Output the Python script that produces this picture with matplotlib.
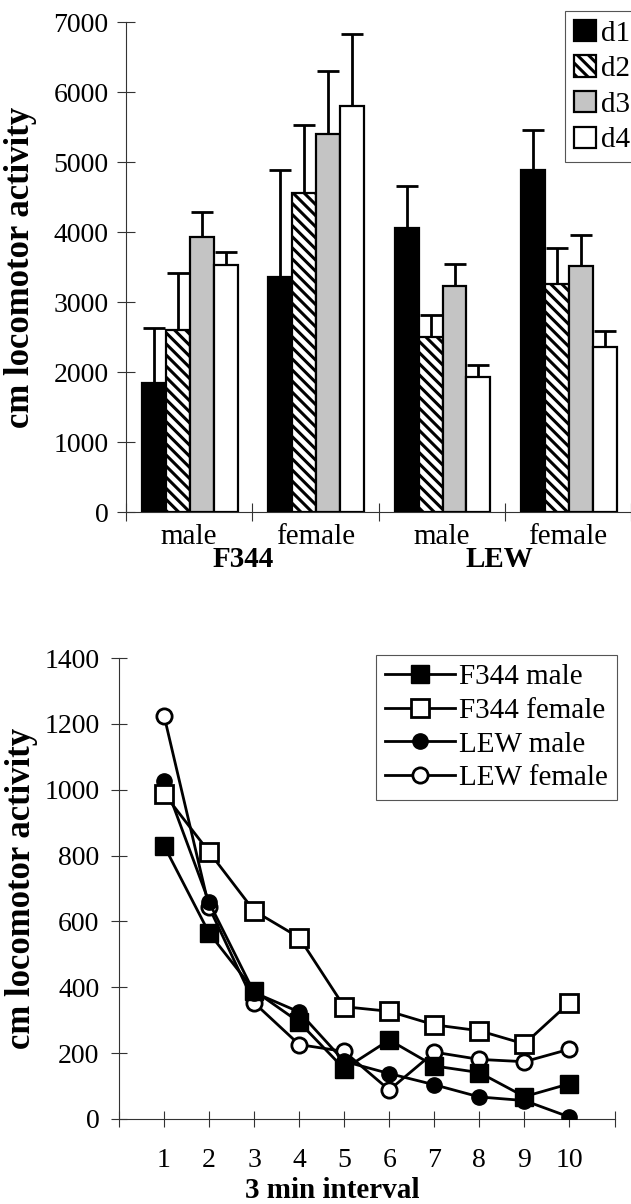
import matplotlib
matplotlib.use("Agg")
import matplotlib.pyplot as plt
import matplotlib.transforms as mtransforms
import numpy as np

plt.rcParams['font.family'] = ['Liberation Serif', 'DejaVu Serif']
plt.rcParams['hatch.linewidth'] = 2.2

# ---------------- data: top chart ----------------
groups = ["male", "female", "male", "female"]
strains = ["F344", "LEW"]
days = ["d1", "d2", "d3", "d4"]
d1_mean = [1850, 3360, 4060, 4880]
d1_err = [780, 1520, 590, 580]
d2_mean = [2600, 4560, 2500, 3260]
d2_err = [810, 970, 320, 505]
d3_mean = [3935, 5400, 3230, 3520]
d3_err = [345, 895, 315, 435]
d4_mean = [3525, 5800, 1925, 2360]
d4_err = [190, 1035, 180, 225]

# ---------------- data: bottom chart ----------------
intervals = [1, 2, 3, 4, 5, 6, 7, 8, 9, 10]
f344_male = [830, 565, 390, 294, 152, 240, 161, 141, 68, 107]
f344_female = [988, 811, 632, 551, 341, 327, 286, 268, 228, 353]
lew_male = [1027, 658, 384, 325, 175, 138, 104, 67, 56, 6]
lew_female = [1225, 643, 353, 226, 205, 88, 203, 181, 174, 212]

W, H = 631, 1204
fig = plt.figure(figsize=(W / 100, H / 100), dpi=100)

FS = 20      # tick numbers
FL = 21      # category labels / legend
axcol = '#333333'

# ================= TOP =================
ax1 = fig.add_axes([126 / W, 1 - 512 / H, 505 / W, 490 / H])
bw = 0.19
off0 = 0.127
means = [d1_mean, d2_mean, d3_mean, d4_mean]
errs = [d1_err, d2_err, d3_err, d4_err]
styles = [dict(facecolor='black', hatch=None),
          dict(facecolor='white', hatch='\\\\\\'),
          dict(facecolor='#c4c4c4', hatch=None),
          dict(facecolor='white', hatch=None)]
gx = np.arange(len(groups))
handles = []
for k in range(4):
    xs = gx + off0 + bw / 2 + k * bw
    b = ax1.bar(xs, means[k], width=bw, edgecolor='black', linewidth=1.6,
                label=days[k], zorder=3, **styles[k])
    ax1.errorbar(xs, means[k], yerr=[np.zeros(len(errs[k])), errs[k]],
                 fmt='none', ecolor='black', elinewidth=2.0, capsize=8,
                 capthick=2.0, zorder=2)
    handles.append(b)

ax1.set_xlim(0, 4)
ax1.set_ylim(0, 7000)
ax1.set_yticks(np.arange(0, 7001, 1000))
ax1.set_xticks(gx + 0.5)
ax1.set_xticklabels(groups, fontsize=FL)
ax1.set_xticks(np.arange(0, 5), minor=True)
ax1.tick_params(axis='x', which='major', length=0, pad=9)
ax1.tick_params(axis='x', which='minor', direction='inout', length=13,
                width=0.8, color=axcol)
ax1.tick_params(axis='y', direction='inout', length=13, width=0.8,
                color=axcol, labelsize=FS, pad=6)
for s in ['top', 'right']:
    ax1.spines[s].set_visible(False)
for s in ['left', 'bottom']:
    ax1.spines[s].set_linewidth(0.8)
    ax1.spines[s].set_color(axcol)
ax1.set_ylabel("cm locomotor activity", fontsize=25, fontweight='bold',
               va='center', ha='center')
ax1.yaxis.set_label_coords(-0.208, 0.5)

trans = mtransforms.blended_transform_factory(ax1.transData, ax1.transAxes)
for sx, name in zip([0.93, 2.96], strains):
    ax1.text(sx, -0.096, name, transform=trans, ha='center', va='center',
             fontsize=FL, fontweight='bold')

leg1 = ax1.legend(handles=handles, labels=days, loc='upper left',
                  bbox_to_anchor=(565 / W, 1 - 11 / H),
                  bbox_transform=fig.transFigure, fontsize=FL,
                  frameon=True, fancybox=False, framealpha=1,
                  handlelength=0.75, handleheight=0.75, handletextpad=0.2,
                  labelspacing=0.3, borderpad=0.3, borderaxespad=0)
leg1.get_frame().set_edgecolor('#555555')
leg1.get_frame().set_linewidth(0.8)

# ================= BOTTOM =================
ax2 = fig.add_axes([119 / W, 1 - 1119 / H, 495.5 / W, 461 / H])
lw = 2.0
l4, = ax2.plot(intervals, lew_female, '-o', color='black', lw=lw, ms=11,
               mfc='white', mec='black', mew=2.0, zorder=3, label='LEW female')
l3, = ax2.plot(intervals, lew_male, '-o', color='black', lw=lw, ms=11,
               mfc='black', mec='black', zorder=4, label='LEW male')
l2, = ax2.plot(intervals, f344_female, '-s', color='black', lw=lw, ms=13,
               mfc='white', mec='black', mew=2.0, zorder=5, label='F344 female')
l1, = ax2.plot(intervals, f344_male, '-s', color='black', lw=lw, ms=13,
               mfc='black', mec='black', zorder=6, label='F344 male')

ax2.set_xlim(0, 11)
ax2.set_ylim(0, 1400)
ax2.set_yticks(np.arange(0, 1401, 200))
ax2.set_xticks(np.arange(0, 12))
ax2.set_xticklabels([''] + [str(i) for i in intervals] + [''])
ax2.tick_params(axis='x', direction='inout', length=12, width=0.8,
                color=axcol, labelsize=FS, pad=15)
ax2.tick_params(axis='y', direction='inout', length=12, width=0.8,
                color=axcol, labelsize=FS, pad=8)
for s in ['top', 'right']:
    ax2.spines[s].set_visible(False)
for s in ['left', 'bottom']:
    ax2.spines[s].set_linewidth(0.8)
    ax2.spines[s].set_color(axcol)
ax2.set_ylabel("cm locomotor activity", fontsize=25, fontweight='bold',
               va='center', ha='center')
ax2.yaxis.set_label_coords(-0.196, 0.5)
ax2.set_xlabel("3 min interval", fontsize=FL, fontweight='bold',
               va='center', ha='center')
ax2.xaxis.set_label_coords(0.43, -0.156)

leg2 = ax2.legend(handles=[l1, l2, l3, l4], loc='upper left',
                  bbox_to_anchor=(376 / W, 1 - 655 / H),
                  bbox_transform=fig.transFigure, fontsize=FL,
                  frameon=True, fancybox=False, framealpha=1,
                  handlelength=2.4, handletextpad=0.15,
                  labelspacing=0.25, borderpad=0.3, borderaxespad=0)
leg2.get_frame().set_edgecolor('#555555')
leg2.get_frame().set_linewidth(0.8)

fig.savefig("out.png", dpi=100)
